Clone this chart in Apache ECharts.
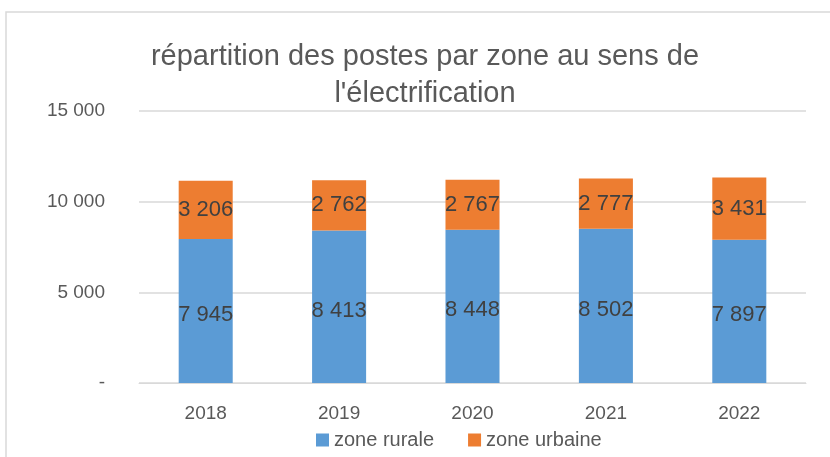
<!DOCTYPE html>
<html>
<head>
<meta charset="utf-8">
<script src="https://cdn.jsdelivr.net/npm/echarts@6/dist/echarts.min.js"></script>
<style>
html,body{margin:0;padding:0;background:#fff;}
#main{width:830px;height:457px;}
</style>
</head>
<body>
<div id="main"></div>
<script>
var years = ['2018', '2019', '2020', '2021', '2022'];
var rurale = [7945, 8413, 8448, 8502, 7897];
var urbaine = [3206, 2762, 2767, 2777, 3431];

function fmt(v){
	if(v==0) return '-';
	return String(v).replace(/\B(?=(\d{3})+(?!\d))/g, ' ');
}

var myChart = echarts.init(document.getElementById('main'));
var font = 'Liberation Sans';
var option = {
	animation: false,
	textStyle: {fontFamily: font},
	graphic: [{
		type: 'rect',
		shape: {x: 6, y: 12, width: 840, height: 460},
		style: {fill: 'none', stroke: '#d9d9d9', lineWidth: 1.5},
		silent: true
	}],
	title: {
		text: "répartition des postes par zone au sens de\nl'électrification",
		left: 420,
		top: 33,
		textAlign: 'center',
		textStyle: {fontFamily: font, fontSize: 29, fontWeight: 'normal', color: '#595959', lineHeight: 37}
	},
	legend: {
		bottom: 2,
		left: 311,
		itemWidth: 13,
		itemHeight: 13,
		itemGap: 34,
		icon: 'rect',
		textStyle: {fontFamily: font, fontSize: 20, color: '#595959'},
		data: ['zone rurale', 'zone urbaine']
	},
	grid: {left: 139, right: 24, top: 111, bottom: 74},
	xAxis: {
		type: 'category',
		data: years,
		axisLine: {lineStyle: {color: '#d9d9d9'}},
		axisTick: {show: false},
		axisLabel: {fontSize: 19, color: '#595959', margin: 21}
	},
	yAxis: {
		type: 'value',
		min: 0,
		max: 15000,
		interval: 5000,
		axisLine: {show: false},
		axisTick: {show: false},
		splitLine: {lineStyle: {color: '#d9d9d9', width: 1.5}},
		axisLabel: {fontSize: 19, color: '#595959', margin: 34, formatter: fmt}
	},
	series: [
		{
			name: 'zone rurale',
			type: 'bar',
			stack: 'total',
			barWidth: '40.5%',
			itemStyle: {color: '#5b9bd5'},
			label: {show: true, position: 'inside', offset: [0, 4], fontSize: 22, color: '#404040', formatter: function(p){return fmt(p.value);}},
			data: rurale
		},
		{
			name: 'zone urbaine',
			type: 'bar',
			stack: 'total',
			itemStyle: {color: '#ed7d31'},
			label: {show: true, position: 'inside', fontSize: 22, color: '#404040', formatter: function(p){return fmt(p.value);}},
			data: urbaine
		}
	]
};
myChart.setOption(option, true);
</script>
</body>
</html>
